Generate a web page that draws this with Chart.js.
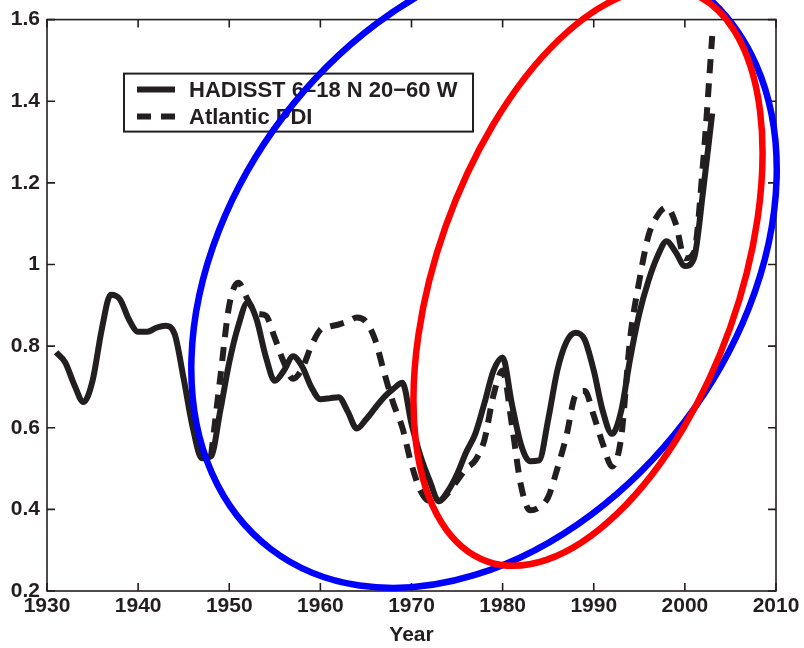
<!DOCTYPE html>
<html>
<head>
<meta charset="utf-8">
<script src="https://cdn.jsdelivr.net/npm/chart.js"></script>
<style>
  html, body { margin: 0; padding: 0; background: #fff; }
  #wrap { width: 804px; height: 648px; }
</style>
</head>
<body>
<div id="wrap"><canvas id="sstChart" width="804" height="648"></canvas></div>
<script>
// Valeurs
const hadisstYears = [1931, 1932, 1933, 1934, 1935, 1936, 1937, 1938, 1939, 1940,
    1941, 1942, 1943, 1944, 1945, 1946, 1947, 1948, 1949, 1950,
    1951, 1952, 1953, 1954, 1955, 1956, 1957, 1958, 1959, 1960,
    1961, 1962, 1963, 1964, 1965, 1966, 1967, 1968, 1969, 1970,
    1971, 1972, 1973, 1974, 1975, 1976, 1977, 1978, 1979, 1980,
    1981, 1982, 1983, 1984, 1985, 1986, 1987, 1988, 1989, 1990,
    1991, 1992, 1993, 1994, 1995, 1996, 1997, 1998, 1999, 2000,
    2001, 2002, 2003];
const hadisstValues = [0.785, 0.76, 0.705, 0.663, 0.715, 0.84, 0.926, 0.915, 0.865, 0.835,
    0.835, 0.845, 0.85, 0.83, 0.72, 0.60, 0.525, 0.53, 0.64, 0.76,
    0.85, 0.906, 0.865, 0.775, 0.715, 0.74, 0.775, 0.75, 0.70, 0.67,
    0.672, 0.675, 0.64, 0.598, 0.62, 0.648, 0.675, 0.695, 0.71, 0.61,
    0.53, 0.47, 0.42, 0.445, 0.486, 0.54, 0.585, 0.66, 0.74, 0.772,
    0.66, 0.56, 0.518, 0.52, 0.62, 0.74, 0.81, 0.833, 0.816, 0.74,
    0.64, 0.585, 0.64, 0.77, 0.88, 0.96, 1.02, 1.057, 1.03, 0.996,
    1.015, 1.18, 1.37];

const pdiYears = [1948, 1949, 1950,
    1951, 1952, 1953, 1954, 1955, 1956, 1957, 1958, 1959, 1960,
    1961, 1962, 1963, 1964, 1965, 1966, 1967, 1968, 1969, 1970,
    1971, 1972, 1973, 1974, 1975, 1976, 1977, 1978, 1979, 1980,
    1981, 1982, 1983, 1984, 1985, 1986, 1987, 1988, 1989, 1990,
    1991, 1992, 1993, 1994, 1995, 1996, 1997, 1998, 1999, 2000,
    2001, 2002, 2003];
const pdiValues = [0.53, 0.72, 0.90,
    0.955, 0.915, 0.88, 0.875, 0.82, 0.76, 0.72, 0.745, 0.80, 0.84,
    0.848, 0.853, 0.86, 0.87, 0.86, 0.816, 0.735, 0.66, 0.60, 0.51,
    0.445, 0.42, 0.42, 0.44, 0.47, 0.50, 0.52, 0.57, 0.68, 0.74,
    0.61, 0.46, 0.398, 0.405, 0.43, 0.50, 0.58, 0.68, 0.69, 0.63,
    0.56, 0.505, 0.575, 0.82, 0.96, 1.07, 1.12, 1.14, 1.10, 1.015,
    1.03, 1.25, 1.56];

const seriesLabels = ['HADISST 6\u201318 N 20\u221260 W', 'Atlantic PDI'];
const xTickValues = [1930, 1940, 1950, 1960, 1970, 1980, 1990, 2000, 2010];
const yTickValues = [0.2, 0.4, 0.6, 0.8, 1, 1.2, 1.4, 1.6];

// Ellipses annotées : centre en (année, valeur), demi-axes en px, rotation en degrés
const ellipseCenters = [[1977.96, 0.989], [1989.37, 0.970]];
const ellipseAxes = [[352, 252], [302, 151]];
const ellipseAngles = [-52.7, -70.45];
const ellipseColors = ['#0000ff', '#ff0000'];

const ink = '#231f20';
const fontFam = '"Liberation Sans", Arial, Helvetica, sans-serif';

function toPoints(xs, ys) {
    return xs.map((x, i) => ({ x: x, y: ys[i] }));
}

// Cadre + graduations vers l'intérieur
const boxTicks = {
    id: 'boxTicks',
    afterDraw(chart) {
        const { ctx, chartArea: a, scales } = chart;
        const len = 8;
        ctx.save();
        ctx.strokeStyle = ink;
        ctx.lineWidth = 1.6;
        ctx.strokeRect(a.left, a.top, a.right - a.left, a.bottom - a.top);
        ctx.beginPath();
        xTickValues.forEach(v => {
            const px = scales.x.getPixelForValue(v);
            ctx.moveTo(px, a.bottom); ctx.lineTo(px, a.bottom - len);
            ctx.moveTo(px, a.top); ctx.lineTo(px, a.top + len);
        });
        yTickValues.forEach(v => {
            const py = scales.y.getPixelForValue(v);
            ctx.moveTo(a.left, py); ctx.lineTo(a.left + len, py);
            ctx.moveTo(a.right, py); ctx.lineTo(a.right - len, py);
        });
        ctx.stroke();
        ctx.restore();
    }
};

// Légende encadrée dans la zone du graphique
const boxLegend = {
    id: 'boxLegend',
    afterDraw(chart) {
        const { ctx, chartArea: a } = chart;
        const left = a.left + 77, top = a.top + 54;
        const w = 349, h = 58;
        ctx.save();
        ctx.fillStyle = '#fff';
        ctx.fillRect(left, top, w, h);
        ctx.strokeStyle = ink;
        ctx.lineWidth = 2;
        ctx.strokeRect(left, top, w, h);
        chart.data.datasets.forEach((ds, i) => {
            const y = top + 16 + i * 27;
            ctx.beginPath();
            ctx.strokeStyle = ds.borderColor;
            ctx.lineWidth = ds.borderWidth;
            ctx.setLineDash(ds.borderDash || []);
            ctx.moveTo(left + 13, y);
            ctx.lineTo(left + 51, y);
            ctx.stroke();
            ctx.setLineDash([]);
            ctx.fillStyle = ink;
            ctx.font = 'bold 22px ' + fontFam;
            ctx.textBaseline = 'middle';
            ctx.fillText(ds.label, left + 65, y + 1);
        });
        ctx.restore();
    }
};

// Ellipses bleue et rouge par-dessus les courbes
const ellipses = {
    id: 'ellipses',
    afterDraw(chart) {
        const { ctx, scales } = chart;
        ctx.save();
        ellipseCenters.forEach((c, i) => {
            const cx = scales.x.getPixelForValue(c[0]);
            const cy = scales.y.getPixelForValue(c[1]);
            ctx.beginPath();
            ctx.strokeStyle = ellipseColors[i];
            ctx.lineWidth = 6.5;
            ctx.ellipse(cx, cy, ellipseAxes[i][0], ellipseAxes[i][1],
                ellipseAngles[i] * Math.PI / 180, 0, 2 * Math.PI);
            ctx.stroke();
        });
        ctx.restore();
    }
};

const tickFont = { family: fontFam, size: 21, weight: 'bold' };

new Chart(document.getElementById('sstChart'), {
    type: 'line',
    data: {
        datasets: [{
            label: seriesLabels[0],
            data: toPoints(hadisstYears, hadisstValues),
            borderColor: ink,
            borderWidth: 6,
            pointRadius: 0,
            cubicInterpolationMode: 'monotone',
            borderJoinStyle: 'round',
            fill: false
        }, {
            label: seriesLabels[1],
            data: toPoints(pdiYears, pdiValues),
            borderColor: ink,
            borderWidth: 6,
            borderDash: [14, 10],
            pointRadius: 0,
            cubicInterpolationMode: 'monotone',
            fill: false
        }]
    },
    options: {
        responsive: false,
        animation: false,
        events: [],
        layout: { padding: { top: 14, right: 28, left: 0, bottom: 0 } },
        plugins: {
            legend: { display: false },
            tooltip: { enabled: false }
        },
        scales: {
            x: {
                type: 'linear',
                min: 1930,
                max: 2010,
                afterBuildTicks: s => { s.ticks = xTickValues.map(v => ({ value: v })); },
                afterFit: s => { s.height = 57; },
                grid: { display: false, drawTicks: false },
                border: { display: false },
                ticks: {
                    color: ink,
                    font: tickFont,
                    padding: 3,
                    maxRotation: 0,
                    autoSkip: false,
                    callback: v => String(v)
                },
                title: {
                    display: true,
                    text: 'Year',
                    color: ink,
                    font: { family: fontFam, size: 21, weight: 'bold' },
                    padding: { top: 0, bottom: 0 }
                }
            },
            y: {
                type: 'linear',
                min: 0.2,
                max: 1.6,
                afterBuildTicks: s => { s.ticks = yTickValues.map(v => ({ value: v })); },
                afterFit: s => { s.width = 47; },
                grid: { display: false, drawTicks: false },
                border: { display: false },
                ticks: {
                    color: ink,
                    font: tickFont,
                    padding: 7,
                    autoSkip: false,
                    callback: v => String(Math.round(v * 10) / 10)
                }
            }
        }
    },
    plugins: [boxTicks, boxLegend, ellipses]
});
</script>
</body>
</html>
